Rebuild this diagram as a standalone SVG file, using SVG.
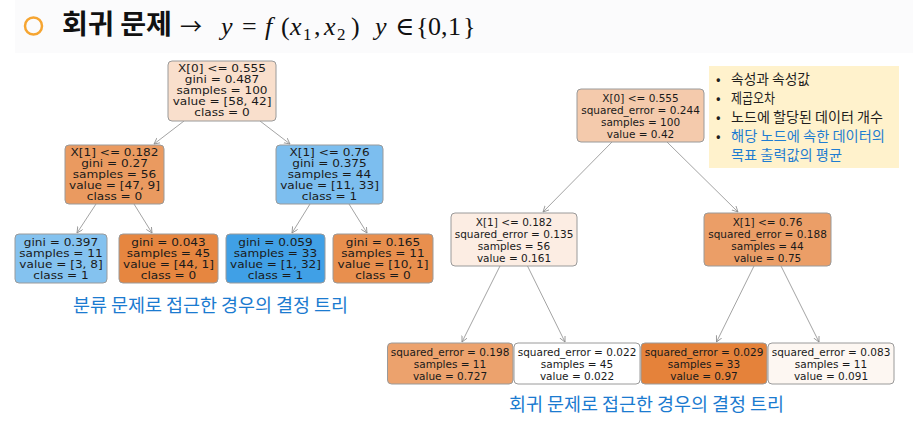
<svg xmlns="http://www.w3.org/2000/svg" width="913" height="426" viewBox="0 0 913 426">
<style>
.box{stroke:#9a9a9a;stroke-width:1}
.lt{font-family:"DejaVu Sans",sans-serif;font-size:11px;fill:#1a1a1a;text-anchor:middle}
.rt{font-family:"DejaVu Sans",sans-serif;font-size:10.5px;fill:#1a1a1a;text-anchor:middle}
.edge{stroke:#8c8c8c;stroke-width:0.8;fill:none;marker-end:url(#arr)}
.kr{font-family:"Noto Sans CJK KR","Noto Sans",sans-serif}
.cap{font-size:18.5px;fill:#1b7bd0}
.leg{font-size:13.5px;fill:#1e1e1e}
.legb{fill:#1f7dd1}
.m{font-family:"Liberation Serif","DejaVu Serif",serif;font-size:26px;fill:#111}
.mi{font-style:italic}
.sub{font-size:17px}
</style>
<defs>
<marker id="arr" markerWidth="8" markerHeight="8" refX="6" refY="3" orient="auto" markerUnits="userSpaceOnUse">
<path d="M0,0 L6,3 L0,6" fill="none" stroke="#8c8c8c" stroke-width="0.8"/>
</marker>
</defs>
<rect x="0" y="0" width="913" height="426" fill="#ffffff"/>
<rect x="15" y="0" width="898" height="53" fill="#fbfbfc"/>

<g id="title">
<circle cx="33.5" cy="26" r="8.5" fill="none" stroke="#f6a531" stroke-width="2.5"/>
<text class="kr" x="62" y="34" font-size="27" font-weight="bold" fill="#111" textLength="110" lengthAdjust="spacingAndGlyphs">회귀 문제</text>
<text class="kr" x="180" y="34" font-size="22" fill="#111">→</text>
<text class="m" y="35"><tspan class="mi" x="221">y</tspan><tspan x="242">=</tspan><tspan class="mi" x="265">f</tspan><tspan x="281">(</tspan><tspan class="mi" x="290">x</tspan><tspan class="sub" x="303" y="40">1</tspan><tspan x="314" y="35">,</tspan><tspan class="mi" x="324">x</tspan><tspan class="sub" x="337" y="40">2</tspan><tspan x="351" y="35">)</tspan><tspan class="mi" x="375">y</tspan><tspan x="395">∈</tspan><tspan x="416">{</tspan><tspan x="428">0</tspan><tspan x="441">,</tspan><tspan x="448">1</tspan><tspan x="463">}</tspan></text>
</g>

<g id="connectors">
<line class="edge" x1="184" y1="121" x2="154" y2="144"/>
<line class="edge" x1="260" y1="121" x2="290" y2="144"/>
<line class="edge" x1="96" y1="204" x2="77" y2="233"/>
<line class="edge" x1="134" y1="204" x2="152" y2="233"/>
<line class="edge" x1="310" y1="204" x2="292" y2="233"/>
<line class="edge" x1="349" y1="204" x2="367" y2="233"/>
<line class="edge" x1="612" y1="142" x2="543" y2="212"/>
<line class="edge" x1="667" y1="142" x2="738" y2="212"/>
<line class="edge" x1="500" y1="266" x2="462" y2="342"/>
<line class="edge" x1="527.5" y1="266" x2="565" y2="342"/>
<line class="edge" x1="754" y1="266" x2="716.5" y2="342"/>
<line class="edge" x1="781" y1="266" x2="819" y2="342"/>
</g>

<g id="c-root">
<rect class="box" x="168" y="61" width="108" height="60" rx="4" fill="#f9dfcc"/>
<g transform="translate(222 0) scale(1.1 1)"><text class="lt"><tspan x="0" y="72">X[0] &lt;= 0.555</tspan><tspan x="0" y="83">gini = 0.487</tspan><tspan x="0" y="94">samples = 100</tspan><tspan x="0" y="105">value = [58, 42]</tspan><tspan x="0" y="116">class = 0</tspan></text></g>
</g>
<g id="c-left">
<rect class="box" x="65" y="145" width="99" height="59" rx="4" fill="#ea9a60"/>
<g transform="translate(114.5 0) scale(1.1 1)"><text class="lt"><tspan x="0" y="156">X[1] &lt;= 0.182</tspan><tspan x="0" y="167">gini = 0.27</tspan><tspan x="0" y="178">samples = 56</tspan><tspan x="0" y="189">value = [47, 9]</tspan><tspan x="0" y="200">class = 0</tspan></text></g>
</g>
<g id="c-right">
<rect class="box" x="276" y="145" width="107" height="59" rx="4" fill="#7cbeef"/>
<g transform="translate(329.5 0) scale(1.1 1)"><text class="lt"><tspan x="0" y="156">X[1] &lt;= 0.76</tspan><tspan x="0" y="167">gini = 0.375</tspan><tspan x="0" y="178">samples = 44</tspan><tspan x="0" y="189">value = [11, 33]</tspan><tspan x="0" y="200">class = 1</tspan></text></g>
</g>
<g id="c-leaf1">
<rect class="box" x="15" y="234" width="92" height="49" rx="4" fill="#84c2ef"/>
<g transform="translate(61 0) scale(1.1 1)"><text class="lt"><tspan x="0" y="246">gini = 0.397</tspan><tspan x="0" y="257">samples = 11</tspan><tspan x="0" y="268">value = [3, 8]</tspan><tspan x="0" y="279">class = 1</tspan></text></g>
</g>
<g id="c-leaf2">
<rect class="box" x="119" y="234" width="99" height="49" rx="4" fill="#e68640"/>
<g transform="translate(168.5 0) scale(1.1 1)"><text class="lt"><tspan x="0" y="246">gini = 0.043</tspan><tspan x="0" y="257">samples = 45</tspan><tspan x="0" y="268">value = [44, 1]</tspan><tspan x="0" y="279">class = 0</tspan></text></g>
</g>
<g id="c-leaf3">
<rect class="box" x="226" y="234" width="99" height="49" rx="4" fill="#40a0e6"/>
<g transform="translate(275.5 0) scale(1.1 1)"><text class="lt"><tspan x="0" y="246">gini = 0.059</tspan><tspan x="0" y="257">samples = 33</tspan><tspan x="0" y="268">value = [1, 32]</tspan><tspan x="0" y="279">class = 1</tspan></text></g>
</g>
<g id="c-leaf4">
<rect class="box" x="333" y="234" width="100" height="49" rx="4" fill="#e88f4e"/>
<g transform="translate(383 0) scale(1.1 1)"><text class="lt"><tspan x="0" y="246">gini = 0.165</tspan><tspan x="0" y="257">samples = 11</tspan><tspan x="0" y="268">value = [10, 1]</tspan><tspan x="0" y="279">class = 0</tspan></text></g>
</g>
<text id="cap-left" class="kr cap" x="73" y="312" textLength="275" lengthAdjust="spacing">분류 문제로 접근한 경우의 결정 트리</text>

<g id="r-root">
<rect class="box" x="577" y="89" width="127" height="53" rx="4" fill="#f4caac"/>
<text class="rt"><tspan x="640.5" y="101.5">X[0] &lt;= 0.555</tspan><tspan x="640.5" y="113.5">squared_error = 0.244</tspan><tspan x="640.5" y="125.5">samples = 100</tspan><tspan x="640.5" y="137.5">value = 0.42</tspan></text>
</g>
<g id="r-left">
<rect class="box" x="451" y="213" width="126" height="53" rx="4" fill="#fcede3"/>
<text class="rt"><tspan x="514" y="225.5">X[1] &lt;= 0.182</tspan><tspan x="514" y="237.5">squared_error = 0.135</tspan><tspan x="514" y="249.5">samples = 56</tspan><tspan x="514" y="261.5">value = 0.161</tspan></text>
</g>
<g id="r-right">
<rect class="box" x="704" y="213" width="127" height="53" rx="4" fill="#eb9e67"/>
<text class="rt"><tspan x="767.5" y="225.5">X[1] &lt;= 0.76</tspan><tspan x="767.5" y="237.5">squared_error = 0.188</tspan><tspan x="767.5" y="249.5">samples = 44</tspan><tspan x="767.5" y="261.5">value = 0.75</tspan></text>
</g>
<g id="r-leaf1">
<rect class="box" x="387.5" y="343" width="125.5" height="41" rx="4" fill="#eca26d"/>
<text class="rt"><tspan x="450" y="355.5">squared_error = 0.198</tspan><tspan x="450" y="367.5">samples = 11</tspan><tspan x="450" y="379.5">value = 0.727</tspan></text>
</g>
<g id="r-leaf2">
<rect class="box" x="514" y="343" width="126" height="41" rx="4" fill="#ffffff"/>
<text class="rt"><tspan x="577" y="355.5">squared_error = 0.022</tspan><tspan x="577" y="367.5">samples = 45</tspan><tspan x="577" y="379.5">value = 0.022</tspan></text>
</g>
<g id="r-leaf3">
<rect class="box" x="641" y="343" width="126" height="41" rx="4" fill="#e5823a"/>
<text class="rt"><tspan x="704" y="355.5">squared_error = 0.029</tspan><tspan x="704" y="367.5">samples = 33</tspan><tspan x="704" y="379.5">value = 0.97</tspan></text>
</g>
<g id="r-leaf4">
<rect class="box" x="768" y="343" width="126" height="41" rx="4" fill="#fdf7f2"/>
<text class="rt"><tspan x="831" y="355.5">squared_error = 0.083</tspan><tspan x="831" y="367.5">samples = 11</tspan><tspan x="831" y="379.5">value = 0.091</tspan></text>
</g>
<text id="cap-right" class="kr cap" x="509" y="411" textLength="275" lengthAdjust="spacing">회귀 문제로 접근한 경우의 결정 트리</text>

<g id="legend">
<rect x="709" y="66" width="190" height="102" fill="#fff2cc"/>
<g class="kr leg">
<text x="716" y="84">•</text><text x="731" y="84" textLength="79" lengthAdjust="spacingAndGlyphs">속성과 속성값</text>
<text x="716" y="103">•</text><text x="731" y="103" textLength="44" lengthAdjust="spacingAndGlyphs">제곱오차</text>
<text x="716" y="122">•</text><text x="731" y="122" textLength="152" lengthAdjust="spacingAndGlyphs">노드에 할당된 데이터 개수</text>
<text x="716" y="141">•</text><text class="legb" x="731" y="141" textLength="154" lengthAdjust="spacingAndGlyphs">해당 노드에 속한 데이터의</text>
<text class="legb" x="731" y="160" textLength="111" lengthAdjust="spacingAndGlyphs">목표 출력값의 평균</text>
</g>
</g>
</svg>
